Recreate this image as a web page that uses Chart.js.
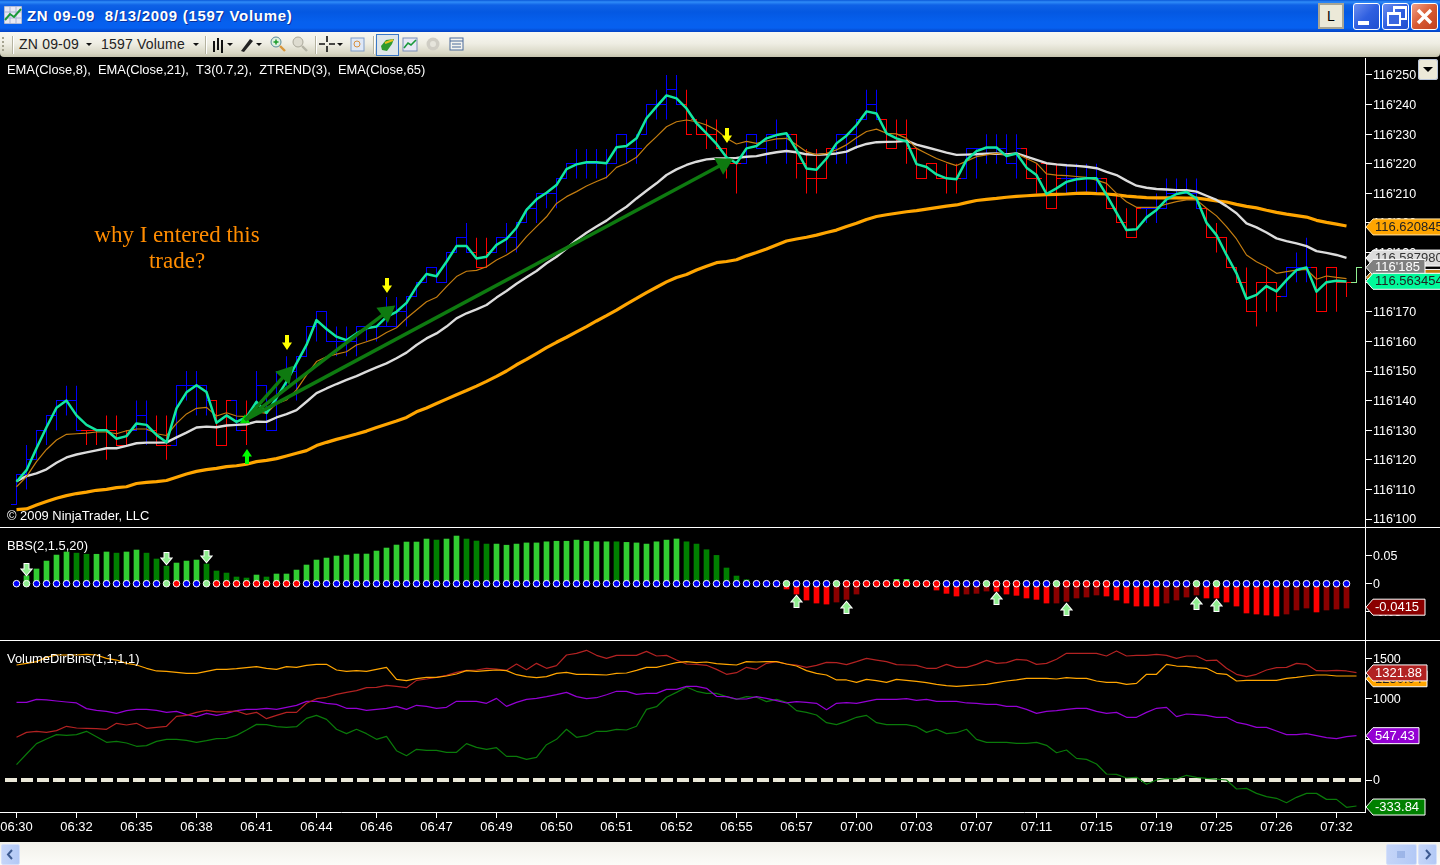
<!DOCTYPE html>
<html><head><meta charset="utf-8"><title>ZN 09-09</title>
<script src="https://cdn.jsdelivr.net/npm/chart.js@4"></script>
<style>
html,body{margin:0;padding:0;background:#000;width:1440px;height:865px;overflow:hidden;font-family:"Liberation Sans",Arial,sans-serif}
canvas{position:absolute;left:0;display:block}
.abs{position:absolute}
#title{left:0;top:0;width:1440px;height:32px;background:linear-gradient(#0a58d8 0,#2f8cf8 2px,#0f62e6 5px,#0458e2 12px,#0660ee 22px,#0660f0 28px,#0342c4 32px)}
#titletext{left:27px;top:7px;color:#fff;font:bold 15px "Liberation Sans";letter-spacing:.7px;white-space:pre;text-shadow:1px 1px 0 #0a2f9a}
#bar{left:0;top:32px;width:1440px;height:25px;background:linear-gradient(#f8f7f1,#efeee4 45%,#d8d6c4 85%,#c4c2ac);border-bottom-left-radius:4px;border-bottom-right-radius:4px}
.tb{position:absolute;top:36px;font:14px "Liberation Sans";color:#222;white-space:pre;letter-spacing:.2px}
.sep{position:absolute;top:36px;width:1px;height:18px;background:#b5b3a0;box-shadow:1px 0 0 #fff}
.drop{position:absolute;top:43px;width:0;height:0;border-left:3px solid transparent;border-right:3px solid transparent;border-top:3px solid #111}
.winbtn{position:absolute;top:3px;width:25px;height:25px;border:1px solid #fff;border-radius:3px}
.rule{position:absolute;background:#fff;height:1px;left:0;width:1440px}
#strip{left:0;top:842px;width:1440px;height:23px;background:linear-gradient(#f1f0ea,#fcfcf8)}
.sb{position:absolute;top:844px;height:19px;background:linear-gradient(90deg,#c5d5f8,#b3c9f6);border:1px solid #d5e0fa;border-radius:2px}
</style></head><body>
<div class="abs" id="title"></div>
<svg class="abs" style="left:4px;top:6px" width="18" height="18"><rect x="0" y="0" width="18" height="18" fill="#e8e8f4" stroke="#7a8fb8"/><path d="M0 6H18M0 12H18M6 0V18M12 0V18" stroke="#a9b6d4"/><path d="M1 14L6 8L10 11L17 3" stroke="#1a9a3a" stroke-width="2" fill="none"/></svg>
<div class="abs" id="titletext">ZN 09-09  8/13/2009 (1597 Volume)</div>
<div class="abs" style="left:1318px;top:3px;width:22px;height:22px;background:#ece9d8;border:2px solid #a8a594;font:14px 'Liberation Sans';color:#000;text-align:center;line-height:22px">L</div>
<div class="winbtn" style="left:1353px;background:linear-gradient(135deg,#6d8ff0,#2f5fe0 50%,#2050d0)"><div class="abs" style="left:4px;top:17px;width:11px;height:4px;background:#fff"></div></div>
<div class="winbtn" style="left:1382px;background:linear-gradient(135deg,#6d8ff0,#2f5fe0 50%,#2050d0)"><div class="abs" style="left:10px;top:2px;width:10px;height:9px;border:2px solid #fff;border-top-width:3px"></div><div class="abs" style="left:4px;top:8px;width:10px;height:9px;border:2px solid #fff;border-top-width:3px;background:#3a66e0"></div></div>
<div class="winbtn" style="left:1411px;background:linear-gradient(135deg,#f0a088,#d85a32 50%,#c04020)"><svg width="25" height="25" style="position:absolute;left:0;top:0"><path d="M6 6L19 19M19 6L6 19" stroke="#fff" stroke-width="3.4"/></svg></div>
<div class="abs" id="bar"></div>
<svg class="abs" style="left:2px;top:36px" width="4" height="18"><path d="M1 1V17" stroke="#a5a390" stroke-dasharray="2 2" stroke-width="2"/></svg>
<div class="sep" style="left:12px"></div>
<div class="tb" style="left:19px">ZN 09-09</div><div class="drop" style="left:86px"></div>
<div class="tb" style="left:101px">1597 Volume</div><div class="drop" style="left:193px"></div>
<div class="sep" style="left:205px"></div>
<svg class="abs" style="left:212px;top:36px" width="50" height="18"><path d="M2 5V16M6 2V14M10 4V17" stroke="#111" stroke-width="2" fill="none"/><path d="M15 7h6l-3 3z" fill="#111"/><path d="M29 15L38 3l3 2L32 16z" fill="#222"/><path d="M44 7h6l-3 3z" fill="#111"/></svg>
<svg class="abs" style="left:270px;top:36px" width="40" height="18"><circle cx="6" cy="6" r="5" fill="#dff0df" stroke="#5a8a9a"/><path d="M3.5 6h5M6 3.5v5" stroke="#1a9a2a" stroke-width="1.5"/><path d="M10 10l5 5" stroke="#d8963a" stroke-width="2.4"/><circle cx="28" cy="6" r="5" fill="#dedcd0" stroke="#aaa89a"/><path d="M32 10l5 5" stroke="#b5b3a5" stroke-width="2.4"/></svg>
<div class="sep" style="left:315px"></div>
<svg class="abs" style="left:319px;top:36px" width="48" height="18"><path d="M0 8H6M10 8H16M8 0V6M8 10V16" stroke="#111" stroke-width="1.6"/><path d="M18 7h6l-3 3z" fill="#111"/><rect x="32" y="2" width="13" height="13" fill="#dfe8f6" stroke="#7f9cc8"/><circle cx="38" cy="8" r="3" fill="none" stroke="#d89040"/></svg>
<div class="sep" style="left:373px"></div>
<div class="abs" style="left:376px;top:34px;width:21px;height:20px;background:#dfe6ea;border:1px solid #3a78c8"></div>
<svg class="abs" style="left:380px;top:37px" width="85" height="16"><path d="M1 9L6 3L14 2L12 7L7 14L2 13z" fill="#2f9a2f"/><path d="M5 6L13 3" stroke="#e8c020" stroke-width="2"/><rect x="23" y="1" width="14" height="13" fill="#e8e8f4" stroke="#7a8fb8"/><path d="M24 11L28 6L31 8L36 3" stroke="#1a9a3a" stroke-width="1.6" fill="none"/><circle cx="53" cy="7" r="6.5" fill="#cfcdc4"/><circle cx="53" cy="7" r="3" fill="#e6e5dc"/><rect x="70" y="1" width="13" height="12" fill="#f4f4f0" stroke="#4a6a9a"/><path d="M70 4H83M72 7H81M72 10H81" stroke="#4a6a9a"/></svg>
<canvas id="c1" width="1440" height="469" style="top:58px"></canvas>
<canvas id="c2" width="1440" height="112" style="top:528px"></canvas>
<canvas id="c3" width="1440" height="201" style="top:641px"></canvas>
<div class="rule" style="top:527px"></div><div class="rule" style="top:640px"></div>
<div class="abs" style="left:1418px;top:59px;width:20px;height:21px;background:#ece9d8;border-radius:3px;box-shadow:inset 0 0 0 1px #b8c4d8"><div class="abs" style="left:5px;top:8px;width:0;height:0;border-left:5px solid transparent;border-right:5px solid transparent;border-top:5px solid #000"></div></div>
<div class="abs" id="strip"></div>
<div class="sb" style="left:1px;width:17px"><svg width="17" height="19"><path d="M10 5L6 9.5L10 14" stroke="#3d5a90" stroke-width="2" fill="none"/></svg></div>
<div class="sb" style="left:1386px;width:29px"><svg width="29" height="19"><path d="M11 6V13M13 6V13M15 6V13M17 6V13" stroke="#7f9cd8"/></svg></div>
<div class="sb" style="left:1418px;width:17px"><svg width="17" height="19"><path d="M7 5L11 9.5L7 14" stroke="#3d5a90" stroke-width="2" fill="none"/></svg></div>

<script>
// ---------- price panel (values are the last three digits of 116'xxx) ----------
const priceTicks=[100,110,120,130,140,150,160,170,180,190,200,210,220,230,240,250];
const xTickIndex=[0,6,12,18,24,30,36,42,48,54,60,66,72,78,84,90,96,102,108,114,120,126,132];
const xTickLabels=["06:30","06:32","06:35","06:38","06:41","06:44","06:46","06:47","06:49","06:50","06:51","06:52","06:55","06:57","07:00","07:03","07:07","07:11","07:15","07:19","07:25","07:26","07:32"];
const barHigh=[115,125,130,135,140,145,145,130,130,135,135,130,140,140,135,135,145,150,150,145,140,140,140,140,150,145,150,155,155,165,170,170,165,165,165,165,165,175,175,175,180,185,185,190,195,200,195,195,195,200,200,205,210,210,215,220,225,225,225,225,230,230,230,240,245,250,250,245,235,235,235,225,220,230,230,230,235,230,230,225,225,225,230,230,235,245,245,235,235,235,225,220,220,220,220,225,225,230,230,230,230,225,220,220,220,220,220,220,220,215,210,205,205,205,210,215,215,215,215,205,200,195,185,185,180,185,180,185,190,195,185,185,185,180,185];
const barLow=[105,110,120,125,130,135,130,125,125,120,125,125,130,125,125,120,125,140,135,135,125,125,130,125,135,130,130,145,140,155,160,160,155,155,155,160,160,165,165,165,175,180,180,180,190,190,185,185,190,190,190,200,200,205,205,215,215,215,215,215,220,220,220,230,235,235,240,230,230,225,225,215,210,220,225,220,225,220,215,210,210,215,220,220,225,235,235,225,225,220,215,215,215,210,210,215,215,220,220,220,215,215,210,205,205,210,210,210,210,205,200,195,195,200,200,205,210,210,205,195,190,185,180,170,165,170,170,175,180,180,170,170,170,175,180];
const barOpen=[105,115,120,130,135,140,140,130,130,130,130,125,130,135,130,125,125,145,145,145,140,125,140,130,135,145,130,150,150,155,165,170,160,160,160,165,165,165,165,170,175,180,185,180,190,195,190,185,190,195,195,200,205,210,210,215,220,220,220,220,220,230,225,230,240,240,245,240,235,230,230,225,220,220,230,225,230,230,230,220,215,215,225,230,230,235,240,235,225,230,225,215,220,215,215,215,225,225,225,225,220,225,215,220,205,215,215,215,215,215,205,200,195,205,205,205,210,210,210,205,195,195,185,180,170,180,180,175,185,185,185,170,185,180,180];
const barClose=[115,120,130,135,140,140,130,130,130,130,125,130,135,130,125,125,145,145,145,140,125,140,130,135,145,130,150,150,155,165,170,160,160,160,165,165,165,165,170,175,180,185,180,190,195,190,185,190,195,195,200,205,210,210,215,220,220,220,220,220,230,225,225,240,240,245,240,230,230,230,225,220,220,230,225,230,230,230,220,215,215,225,230,230,235,240,235,225,230,225,215,220,215,215,215,225,225,225,225,220,225,215,215,205,215,215,215,215,215,205,200,195,205,205,205,210,210,210,205,195,195,185,180,170,180,180,175,185,185,185,170,185,180,180,185];
const barTone=[..."bbbbbbbrrrrrbbrrbbbbrrbrbbbbbbbbbbbbbbbbbbbbbbrrbbbbbbbbbbbbbbbbbbbrrrrrrbbbbbrrrrbbbbbrrrrrrrrbbbbbbrrrrbbbbrrrrbbbbbbrrrrrrrrbbbrrrrg"];
const ztrendLine=[112.6,116.5,123.9,131,137.6,140,135,131.8,130,130,127.1,128,132.3,131.8,128.4,125.9,137.4,142.8,145.2,142.9,132.5,135,132.8,134.4,139.6,135.8,140.9,146.4,152.6,158.8,167.2,164.2,161.6,160.4,162.7,164.4,165,168.3,170,173,178.5,182.8,182,186.9,192.2,192.2,188,188.6,192.6,194.6,198.4,204.4,208,210.2,212.8,218.2,219.8,220.5,220.5,220.2,225.6,226,228.6,235.4,239.3,243.1,242.1,238.7,233.7,230.3,226.7,222.2,220.2,225.2,226,228.6,229.7,230.3,224.7,218.4,218,221.8,226.9,229.5,233.1,237.7,237,230.3,228.6,227.5,219.9,218.9,216.4,215.1,214.8,221.3,224.3,225.5,225.5,222.6,223.5,218.7,216.2,209.8,211.7,213.9,214.8,215.1,215.1,209.5,203.5,197.6,197.9,201.9,204.4,208,209.8,210.5,208.3,200.1,195.9,189.2,183,174.4,175.7,178.7,176.9,180.7,184.1,185,176.8,180,180.5,180.2];
const t3Line=[110.9,114.3,119.4,123.5,126.7,128.6,128.8,129,129.4,129.4,128.8,129.8,130.4,130.4,128.8,128.2,132.3,135.5,137.4,137.7,134.8,135.9,134.8,134.6,136.3,135.7,139,140.2,143.6,148.6,153.2,154.8,155.7,156.5,158.8,159.9,161,163,164.6,167.8,170.6,173.4,174.9,178.5,181.9,183.7,184,185.2,187.5,189.2,191.4,195.4,198.8,202.1,206.6,208.9,210.6,212.5,214,215.4,218.8,220.2,222.2,226,229.2,232.5,234.2,234.8,234.2,233.1,231.4,228.6,226.7,227.6,226.9,227.7,228.4,228.6,226.4,224.1,223,223.5,224.7,226.4,228.8,230.9,231.7,230.3,230.1,228.6,225.2,223.5,221.8,220.5,219.4,220.9,222.4,223,223.5,223,223.5,221.8,220.2,216.6,216.2,216,215.7,215.4,214.5,213.4,210,207.2,205.3,205.3,205.3,206.4,207.2,207.8,207.8,205,202.4,198.8,194.6,189.2,186.9,185.2,183,183.6,184.1,184.3,181,182.1,181.6,181.2];
const ema21Line=[112.8,114.5,115.4,116.8,119,120.8,121.8,122.5,123.2,123.9,123.9,124.7,125.6,125.8,125.8,125.9,127.6,129.2,130.9,131.2,131,131.6,131.8,132,132.9,132.8,134.3,135.4,136.8,139.6,142.5,144.1,145.6,147,148.3,149.8,151.2,152.6,154.3,156.2,158.8,161,162.7,165,167.8,169.5,170.8,172.3,174.8,177,179.5,181.7,183.8,186.4,188.6,191.4,194.3,196.7,198.8,200.8,203.3,205.5,208.3,210.9,213.4,216.2,218.1,219.6,220.7,221.5,221.8,221.8,222,222.4,222.6,223.3,223.9,224.3,223.9,223.2,223,223.2,223.5,224.1,225.6,226.7,227.3,227.4,227.5,227.8,226.5,225.6,224.7,223.8,223,223.1,223.2,223.4,223.5,223.2,223.5,222.4,221.3,220.2,219.8,219.5,219.3,219,218.5,217.3,216.2,214.3,212.6,211.9,211.5,211.3,211.1,211.1,210.6,209.2,207.8,205.7,203.3,199.9,198.5,196.8,194.8,193.9,193.1,192.2,190.5,189.9,189.2,188.2];
const ema65Line=[103.2,103.4,104.7,105.9,107,107.9,108.6,109.1,109.7,110,110.6,110.9,112,112.4,112.6,113,114.1,115.2,116.1,116.7,117.1,117.7,118,118.5,119.4,119.8,120.4,121.3,122.2,123.1,124.8,125.9,126.9,127.8,128.7,129.7,130.9,132,133.1,134.3,136.2,137.5,139,140.5,142,143.4,144.9,146.5,148.2,150,152.1,153.9,155.9,157.9,159.7,161.4,163.2,165,166.9,168.7,170.6,172.6,174.5,176.5,178.3,180.1,181.6,182.6,184.1,185.4,186.6,187,187.6,188.9,190,191.2,192.6,193.9,194.6,195.2,195.9,196.8,197.6,198.8,199.9,201.2,202.2,202.8,203.3,203.8,204.2,204.7,205.2,205.7,206.1,206.9,207.6,208,208.3,208.7,209,209.2,209.4,209.6,209.7,209.8,210,210.1,209.9,209.8,209.5,209.1,208.8,208.6,208.5,208.5,208.5,208.4,208.4,208,207.5,207.1,206.3,205.6,205.1,204.3,203.6,203,202.5,202,200.9,200.2,199.6,199];
const yellowArrowIndex=[27,37,71], yellowArrowValue=[159.5,179,229.5];
const limeArrowIndex=[23], limeArrowValue=[121];
const drawnArrows=[[22.85,133.4,26.95,149,42],[22.85,133.4,37,169.9,53],[22.85,133.4,70.7,220,62]];
// ---------- BBS panel ----------
const bbsTicks=[-0.05,0,0.05];
const bbsValues=[0,.014,.026,.04,.0506,.056,.054,.052,.052,.056,.054,.056,.0595,.054,.0436,.031,.0365,.04,.0418,.0347,.0224,.0188,.0118,.01,.0153,.0118,.0171,.0171,.0241,.033,.0418,.0453,.0489,.0506,.0524,.0524,.0577,.063,.0683,.0736,.0736,.0789,.0771,.0789,.0842,.0789,.0754,.07,.07,.068,.07,.072,.072,.074,.075,.075,.077,.075,.074,.074,.074,.073,.072,.07,.074,.077,.079,.074,.07,.06,.05,.0277,.0135,.007,0,0,-.0053,-.0094,-.0183,-.0289,-.0342,-.036,-.0324,-.0277,-.0183,0,0,0,.0077,.0077,0,0,-.0112,-.0171,-.0218,-.0183,-.0171,-.013,-.0135,-.0183,-.0206,-.0253,-.0277,-.0342,-.0342,-.0312,-.0253,-.0236,-.02,-.0218,-.0289,-.0342,-.0395,-.0395,-.0395,-.0342,-.0289,-.0236,-.02,-.0253,-.0253,-.0324,-.0395,-.0518,-.0536,-.0554,-.0571,-.0536,-.0465,-.043,-.05,-.0465,-.0448,-.043];
const bbsDark=[0,0,0,0,0,0,1,1,0,0,1,0,0,1,1,1,0,0,0,1,1,1,1,1,0,1,0,0,0,0,0,0,0,0,0,0,0,0,0,0,0,0,1,0,0,1,1,1,0,0,0,0,0,0,0,0,0,0,0,0,1,0,0,0,0,0,0,1,1,1,1,1,1,1,0,0,0,0,0,0,0,0,1,1,1,0,0,0,0,0,0,0,0,0,0,1,1,1,0,0,0,0,0,0,1,1,1,1,1,0,0,0,0,0,0,1,1,1,1,0,0,0,0,0,0,0,0,1,1,1,0,1,1,1];
const dotTone=[..."bgbbbbbbbbbbbbbgrbbgrrrrrrrrrbbbbbbbbbbbbbbbbbbbbbbbbbbbbbbbbbbbbbbbbbbbbbbbbgbbbbgrrrrrrrrrrbbbbgrrrbbbgrrrrrbbbbbbbbgbgbbbbbbbbbbbbb"];
const bbsDownIndex=[1,15,19], bbsDownValue=[.0242,.0449,.0484];
const bbsUpIndex=[78,83,98,105,118,120], bbsUpValue=[-.0318,-.0424,-.027,-.0459,-.0353,-.0394];
// ---------- VolumeDirBins panel ----------
const volTicks=[0,500,1000,1500];
const volOrange=[1420,1440,1461,1514,1543,1543,1543,1551,1543,1502,1481,1440,1420,1379,1346,1342,1329,1317,1317,1342,1366,1366,1374,1387,1399,1379,1366,1399,1391,1416,1428,1428,1358,1342,1350,1342,1366,1391,1243,1226,1251,1267,1267,1284,1309,1350,1342,1350,1358,1350,1300,1276,1263,1276,1317,1329,1305,1305,1300,1296,1317,1321,1354,1391,1391,1420,1449,1461,1449,1457,1436,1428,1420,1461,1457,1461,1461,1432,1407,1350,1317,1296,1235,1235,1206,1243,1226,1206,1243,1230,1218,1202,1181,1165,1156,1165,1173,1181,1202,1222,1235,1255,1255,1255,1247,1263,1255,1255,1222,1206,1206,1181,1193,1305,1305,1428,1407,1403,1387,1379,1317,1305,1222,1230,1230,1230,1230,1255,1267,1284,1296,1296,1284,1284,1284];
const volRed=[527,588,601,588,609,663,642,638,634,626,700,679,700,638,650,663,786,798,835,860,840,844,852,811,835,757,798,835,835,947,1004,1021,1058,1082,1103,1140,1144,1169,1156,1140,1230,1247,1267,1292,1329,1354,1358,1379,1370,1354,1432,1362,1440,1379,1412,1543,1564,1601,1539,1502,1539,1539,1539,1588,1531,1539,1481,1432,1428,1416,1366,1305,1325,1391,1366,1440,1461,1432,1420,1391,1416,1453,1449,1424,1461,1502,1481,1461,1424,1420,1416,1379,1379,1428,1391,1391,1428,1477,1440,1449,1490,1481,1428,1440,1490,1564,1564,1564,1564,1531,1593,1531,1539,1539,1551,1539,1502,1531,1531,1473,1481,1379,1305,1276,1305,1358,1387,1391,1440,1428,1350,1346,1354,1346,1325];
const volPurple=[959,959,996,988,975,963,951,881,860,848,823,856,872,872,860,835,848,807,782,823,798,823,856,872,872,885,872,897,922,971,971,947,934,885,885,860,872,885,909,872,922,909,885,897,971,971,971,947,1008,909,959,996,1008,1029,1053,1082,1029,1004,1016,1053,1095,1095,1058,1070,1070,1119,1119,1156,1156,1132,1033,1029,1000,1000,1029,1008,979,951,967,959,947,868,947,955,947,971,996,996,996,1004,984,996,971,971,971,951,947,934,934,909,909,872,823,848,856,872,885,885,848,823,835,774,774,835,885,897,782,815,807,798,774,774,712,687,650,650,605,560,560,572,547,523,510,535,547];
const volGreen=[189,321,449,506,560,551,560,601,535,465,477,457,416,424,477,502,502,490,465,486,510,514,551,617,687,683,658,650,658,761,798,749,626,572,626,572,502,539,362,300,379,366,366,342,342,449,403,379,399,292,292,255,280,436,502,626,527,547,601,601,626,617,663,872,905,1021,1082,1148,1095,1070,1070,1029,996,1029,1021,967,996,959,856,835,802,708,683,724,774,798,708,683,683,683,658,588,626,572,584,626,502,465,465,465,453,453,465,428,337,370,267,255,198,74,70,25,33,-53,0,21,12,58,33,21,12,0,-111,-103,-165,-206,-226,-280,-214,-165,-165,-239,-239,-337,-321];

const FONT='"Liberation Sans"';
const xy=a=>a.map((v,i)=>({x:i,y:v}));
const pairs=(xs,ys)=>xs.map((x,i)=>({x,y:ys[i]}));
const X_MIN=-1.65,X_MAX=134.85;
const toneColor={b:'#0000ff',r:'#ff0000',g:'#90ee90'};

function tickImage(color,side){const c=document.createElement('canvas');c.width=11;c.height=1;const g=c.getContext('2d');g.fillStyle=color;if(side==='l')g.fillRect(0,0,6,1);else g.fillRect(5,0,6,1);return c}
const openImg={},closeImg={};for(const k in toneColor){openImg[k]=tickImage(toneColor[k],'l');closeImg[k]=tickImage(toneColor[k],'r')}
function arrowImage(color,outline,down,w,h){const p=outline?2:0,c=document.createElement('canvas');c.width=w+p*2;c.height=h+p*2;const g=c.getContext('2d');g.translate(p,p);if(!down){g.translate(0,h);g.scale(1,-1)}
 const m=w/2,hs=h*0.5;g.beginPath();g.moveTo(m-2,0);g.lineTo(m+2,0);g.lineTo(m+2,hs);g.lineTo(w,hs);g.lineTo(m,h);g.lineTo(0,hs);g.lineTo(m-2,hs);g.closePath();
 if(outline){g.lineWidth=2;g.strokeStyle=outline;g.stroke()}g.fillStyle=color;g.fill();return c}

const yellowImg=arrowImage('#ffff00',null,true,10,15), limeImg=arrowImage('#00ff00',null,false,10,15);
const paleDown=arrowImage('#90ee90','#ffffff',true,9,11), paleUp=arrowImage('#90ee90','#ffffff',false,9,11);

const notesPlugin={id:'notes',afterDraw(ch,_a,o){const c=ch.ctx;c.save();c.textBaseline='middle';
  (o.flags||[]).forEach(f=>{const y=ch.scales.y.getPixelForValue(f.value),x0=1366,x1=f.right,h=f.h||8;
    c.beginPath();c.moveTo(x0,y);c.lineTo(x0+7,y-h);c.lineTo(x1,y-h);c.lineTo(x1,y+h);c.lineTo(x0+7,y+h);c.closePath();
    c.fillStyle=f.fill;c.fill();c.lineWidth=1;c.strokeStyle=f.edge||'#fff';c.stroke();
    c.fillStyle=f.ink;c.font='13px '+FONT;c.textAlign='left';c.fillText(f.text,x0+9,y+.5)});
  (o.texts||[]).forEach(t=>{c.fillStyle=t.color||'#fff';c.font=t.font||('12.9px '+FONT);c.textAlign=t.align||'left';c.fillText(t.text,t.x,t.y)});
  c.restore()},beforeDraw(ch){ch.ctx.imageSmoothingEnabled=false}};

const yAxis=(ticks,min,max,fmt)=>({position:'right',min,max,afterBuildTicks:s=>{s.ticks=ticks.map(value=>({value}))},
  afterFit:s=>{s.width=75;s.paddingTop=0;s.paddingBottom=0;s.paddingLeft=0;s.paddingRight=0},
  grid:{drawOnChartArea:false,drawTicks:true,tickLength:7,color:'#fff'},border:{color:'#fff',display:true},
  ticks:{color:'#fff',padding:1,labelOffset:1,font:{family:'Liberation Sans',size:12.5},callback:fmt,autoSkip:false}});
const hiddenX={type:'linear',min:X_MIN,max:X_MAX,offset:false,display:false};
const baseOpts=(y,x,pl)=>({responsive:false,animation:false,devicePixelRatio:1,layout:{padding:0,autoPadding:false},events:[],
  plugins:{legend:{display:false},tooltip:{enabled:false},notes:pl},scales:{x,y}});
const lineDs=(data,color,width,order)=>({type:'line',data,borderColor:color,borderWidth:width,pointRadius:0,tension:0,fill:false,order,borderJoinStyle:'round',spanGaps:false});
const markers=(data,img,order)=>({type:'scatter',data,pointStyle:img,pointRadius:7,order,showLine:false});

// ---- chart 1
const rangeData=barHigh.map((h,i)=>({x:i,y:[barLow[i],h]}));
const d1=[
 {type:'bar',data:rangeData,backgroundColor:barTone.map(k=>toneColor[k]),barThickness:1,order:20,borderWidth:0,inflateAmount:0},
 {type:'scatter',data:xy(barOpen),pointStyle:ctx=>openImg[barTone[ctx.dataIndex]],pointRadius:6,order:19},
 {type:'scatter',data:xy(barClose),pointStyle:ctx=>closeImg[barTone[ctx.dataIndex]],pointRadius:6,order:19},
 lineDs(xy(ema65Line),'#ffa500',3.2,14),
 lineDs(xy(ema21Line),'#dcdcdc',2.4,13),
 lineDs(xy(t3Line),'#c47d10',1.2,12),
 lineDs(xy(ztrendLine),'#12e6a0',2.5,11),
 markers(pairs(yellowArrowIndex,yellowArrowValue),yellowImg,6),
 markers(pairs(limeArrowIndex,limeArrowValue),limeImg,6)
];
drawnArrows.forEach(([x0,y0,x1,y1,rot],k)=>d1.push({type:'line',data:[{x:x0,y:y0},{x:x1,y:y1}],borderColor:'#0e7a10',borderWidth:3.5,tension:0,order:3+k,
  pointRadius:[k===2?6:0,11],pointStyle:'triangle',pointRotation:[0,rot],pointBackgroundColor:['#00e000','#0e7a10'],pointBorderWidth:0}));
new Chart(document.getElementById('c1'),{type:'bar',data:{datasets:d1},plugins:[notesPlugin],options:baseOpts(
 yAxis(priceTicks,97.3,255.74,v=>"116'"+v),hiddenX,{
  flags:[
   {value:198.67,text:'116.620845',fill:'#ffa500',ink:'#222',right:1445,edge:'#ffe0a0'},
   {value:188.15,text:'116.587980',fill:'#dcdcdc',ink:'#333',right:1445},
   {value:181.6,text:'116.567120',fill:'#c47d10',ink:'#fff',right:1445},
   {value:185,text:"116'185",fill:'#808080',ink:'#fff',right:1425},
   {value:180.3,text:'116.563454',fill:'#00fa9a',ink:'#222',right:1445}],
  texts:[
   {text:'EMA(Close,8),  EMA(Close,21),  T3(0.7,2),  ZTREND(3),  EMA(Close,65)',x:7,y:12.5},
   {text:'© 2009 NinjaTrader, LLC',x:7,y:458.5},
   {text:'why I entered this',x:177,y:177.5,align:'center',color:'#ff8c00',font:'23px "Liberation Serif"'},
   {text:'trade?',x:177,y:203.5,align:'center',color:'#ff8c00',font:'23px "Liberation Serif"'}]})});

// ---- chart 2
const upBright='#32cd32',upDark='#008000',dnBright='#ff0000',dnDark='#8b0000';
const d2=[
 {type:'bar',data:xy(bbsValues),backgroundColor:bbsValues.map((v,i)=>v>=0?(bbsDark[i]?upDark:upBright):(bbsDark[i]?dnDark:dnBright)),barThickness:5,order:9,borderWidth:0},
 {type:'scatter',data:xy(bbsValues.map(()=>0)),pointRadius:3.3,pointBorderWidth:1,pointBorderColor:'#fff',pointBackgroundColor:dotTone.map(k=>toneColor[k]),order:5},
 markers(pairs(bbsDownIndex,bbsDownValue),paleDown,2),
 markers(pairs(bbsUpIndex,bbsUpValue),paleUp,2)
];
new Chart(document.getElementById('c2'),{type:'bar',data:{datasets:d2},plugins:[notesPlugin],options:baseOpts(
 yAxis(bbsTicks,-.0995,.0984,v=>String(v)),hiddenX,{
  flags:[{value:-.0415,text:'-0.0415',fill:'#8b0000',ink:'#fff',right:1425}],
  texts:[{text:'BBS(2,1.5,20)',x:7,y:18}]})});

// ---- chart 3
const d3=[
 {type:'line',data:[{x:-1.15,y:0},{x:X_MAX,y:0}],borderColor:'#ebe8d8',borderWidth:4,borderDash:[12,4],pointRadius:0,order:9},
 lineDs(xy(volGreen),'#0a7a0a',1.2,5),
 lineDs(xy(volPurple),'#9400d3',1.2,4),
 lineDs(xy(volRed),'#b22222',1.2,3),
 lineDs(xy(volOrange),'#ffa500',1.2,2)
];
const x3={type:'linear',min:X_MIN,max:X_MAX,offset:false,position:'bottom',afterBuildTicks:s=>{s.ticks=xTickIndex.map(value=>({value}))},
 afterFit:s=>{s.height=30;s.paddingLeft=0;s.paddingRight=0;s.paddingTop=0;s.paddingBottom=0},
 grid:{drawOnChartArea:false,drawTicks:true,tickLength:6,color:'#fff'},border:{color:'#fff'},
 ticks:{color:'#fff',padding:2,autoSkip:false,maxRotation:0,minRotation:0,font:{family:'Liberation Sans',size:13},callback:v=>xTickLabels[xTickIndex.indexOf(v)]}};
new Chart(document.getElementById('c3'),{type:'line',data:{datasets:d3},plugins:[notesPlugin],options:baseOpts(
 yAxis(volTicks,-395,1716,v=>String(v)),x3,{
  flags:[
   {value:1250,text:'1250.04',fill:'#ffa500',ink:'#222',right:1427},
   {value:1321.88,text:'1321.88',fill:'#b22222',ink:'#fff',right:1427},
   {value:547.43,text:'547.43',fill:'#9400d3',ink:'#fff',right:1419},
   {value:-333.84,text:'-333.84',fill:'#008000',ink:'#fff',right:1425}],
  texts:[{text:'VolumeDirBins(1,1,1,1)',x:7,y:18}]})});
</script>
</body></html>
